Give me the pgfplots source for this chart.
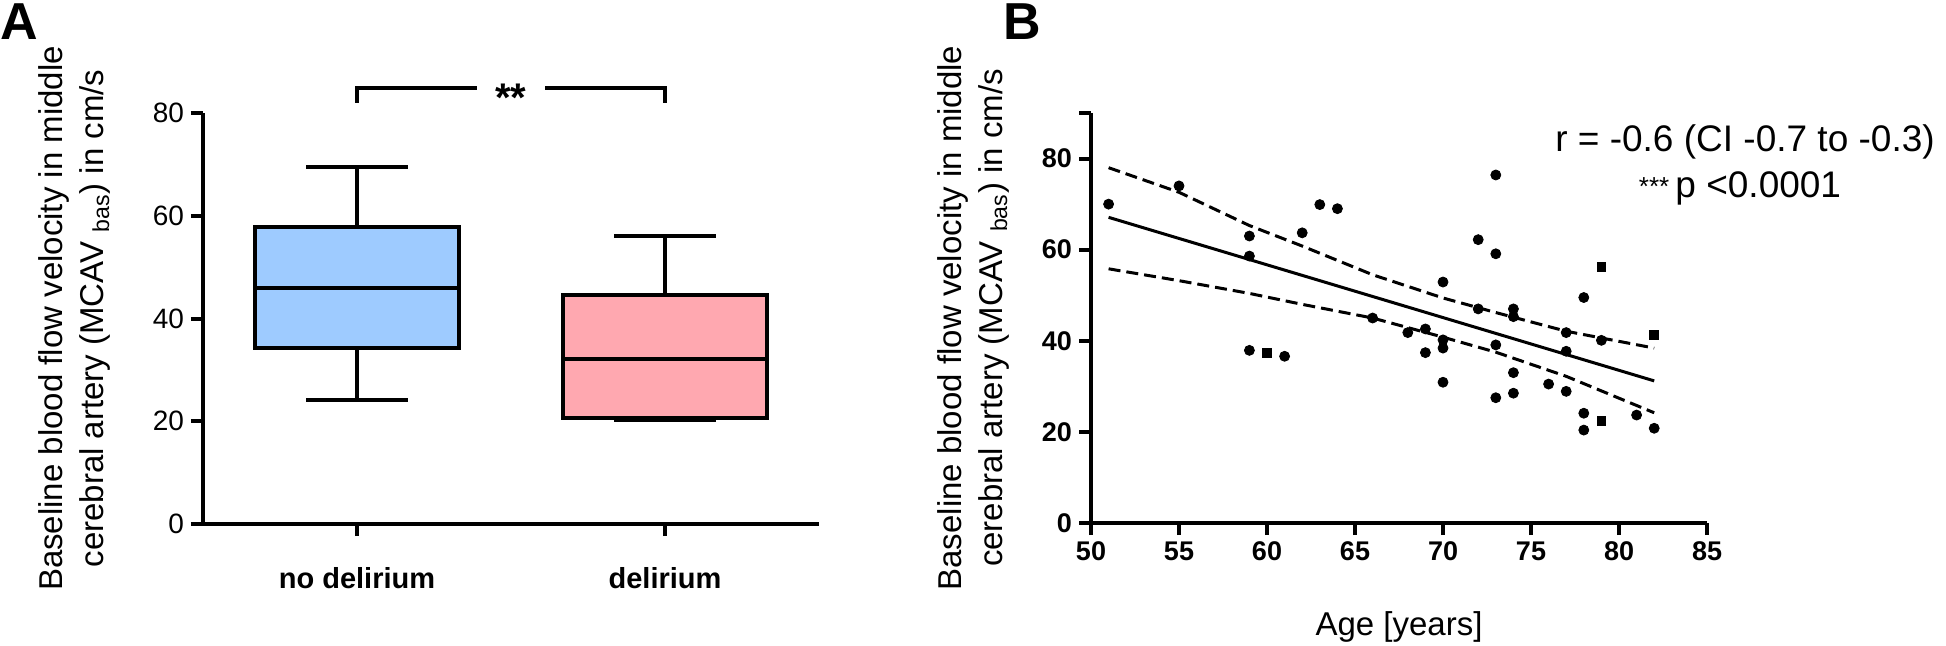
\documentclass[border=0pt]{standalone}
\usepackage{fontspec}
\setmainfont{Liberation Sans}
\usepackage{pgfplots}
\pgfplotsset{compat=1.18}
\definecolor{boxblue}{HTML}{9ECBFF}
\definecolor{boxpink}{HTML}{FFA8B0}
\begin{document}
\begin{tikzpicture}
\begin{axis}[
  name=A, at={(0,0)}, anchor=south west,
  scale only axis, width=308pt, height=205.5pt,
  xmin=-0.5, xmax=1.5, ymin=0, ymax=80,
  axis lines*=left,
  axis line style={line width=2pt},
  tick style={black, line width=2pt},
  major tick length=6pt, tick align=outside,
  xtick={0,1}, xticklabels={no delirium,delirium},
  xticklabel style={font=\bfseries\fontsize{14.5pt}{17pt}\selectfont, yshift=-12pt},
  ytick={0,20,40,60,80},
  yticklabel style={font=\fontsize{14pt}{16pt}\selectfont},
  /pgf/number format/assume math mode=true,
  ylabel={Baseline blood flow velocity in middle\\cerebral artery (MCAV \textsubscript{bas}) in cm/s},
  ylabel style={at={(axis description cs:-0.208,0.5)}, anchor=center, align=center, font=\fontsize{16.5pt}{20.5pt}\selectfont},
  clip=false,
]
% no delirium: lower whisker 24.1, Q1 34.2, median 46.0, Q3 57.8, upper whisker 69.5
\addplot[draw=black, line width=2pt, fill=boxblue] coordinates {(-0.33,34.2) (0.33,34.2) (0.33,57.8) (-0.33,57.8)} -- cycle;
\addplot[black, line width=2pt] coordinates {(-0.33,46.0) (0.33,46.0)};
\addplot[black, line width=2pt] coordinates {(0,57.8) (0,69.5)};
\addplot[black, line width=2pt] coordinates {(-0.165,69.5) (0.165,69.5)};
\addplot[black, line width=2pt] coordinates {(0,34.2) (0,24.1)};
\addplot[black, line width=2pt] coordinates {(-0.165,24.1) (0.165,24.1)};
% delirium: lower whisker 20.2, Q1 20.6, median 32.2, Q3 44.6, upper whisker 56.0
\addplot[black, line width=2pt] coordinates {(0.835,20.2) (1.165,20.2)};
\addplot[draw=black, line width=2pt, fill=boxpink] coordinates {(0.67,20.6) (1.33,20.6) (1.33,44.6) (0.67,44.6)} -- cycle;
\addplot[black, line width=2pt] coordinates {(0.67,32.2) (1.33,32.2)};
\addplot[black, line width=2pt] coordinates {(1,44.6) (1,56.0)};
\addplot[black, line width=2pt] coordinates {(0.835,56.0) (1.165,56.0)};
% significance bracket
\addplot[black, line width=2pt] coordinates {(0,82) (0,84.8) (0.388,84.8)};
\addplot[black, line width=2pt] coordinates {(0.612,84.8) (1,84.8) (1,82)};
\node[font=\bfseries\fontsize{20pt}{24pt}\selectfont, anchor=base, inner sep=0pt, yshift=-11.5pt] at (axis cs:0.5,84.8) {**};
\node[anchor=north west, inner sep=0pt, font=\bfseries\fontsize{26pt}{30pt}\selectfont] at (axis description cs:-0.3295,1.2676) {A};
\end{axis}

\begin{axis}[
  name=B, at={(444pt,0.5pt)}, anchor=south west,
  scale only axis, width=308pt, height=205pt,
  xmin=50, xmax=85, ymin=0, ymax=90,
  axis lines*=left,
  axis line style={line width=2pt},
  tick style={black, line width=2pt},
  major tick length=6pt, tick align=outside,
  xtick={50,55,60,65,70,75,80,85},
  ytick={0,20,40,60,80},
  extra y ticks={90}, extra y tick labels={},
  tick label style={font=\bfseries\fontsize{13.5pt}{16pt}\selectfont},
  /pgf/number format/assume math mode=true,
  ylabel={Baseline blood flow velocity in middle\\cerebral artery (MCAV \textsubscript{bas}) in cm/s},
  ylabel style={at={(axis description cs:-0.1916,0.5)}, anchor=center, align=center, font=\fontsize{16.5pt}{20.5pt}\selectfont},
  xlabel={Age [years]},
  xlabel style={at={(axis description cs:0.5,0)}, anchor=base, yshift=-56pt, font=\fontsize{16.5pt}{20pt}\selectfont},
  clip=false,
]
\addplot[black, line width=1.5pt, dash pattern=on 6pt off 3pt] coordinates {
  (51,78.0) (55,72.6) (59,65.3) (62,60.8) (66,54.5) (70,49.4) (73,46.2) (77,42.1) (82,38.4)};
\addplot[black, line width=1.5pt, dash pattern=on 6pt off 3pt] coordinates {
  (51,55.8) (55,53.2) (59,50.4) (62,48.0) (66,45.0) (70,40.8) (73,37.5) (77,32.2) (82,24.2)};
\addplot[black, line width=1.5pt] coordinates {(51,67.1) (82,31.2)};
\addplot[only marks, mark=*, mark size=2.5pt, black] coordinates {
  (51,70.0) (55,74.0) (59,63.0) (59,58.6) (59,37.9) (61,36.6) (62,63.7) (63,69.9) (64,69.0)
  (66,45.0) (68,41.8) (69,42.6) (69,37.4) (70,52.9) (70,40.2) (70,38.4) (70,30.9)
  (72,62.2) (72,47.0) (73,76.4) (73,59.1) (73,39.1) (73,27.5)
  (74,47.0) (74,45.3) (74,33.0) (74,28.5) (76,30.5) (77,41.8) (77,37.7) (77,28.9)
  (78,49.5) (78,24.1) (78,20.4) (79,40.1) (81,23.7) (82,20.8)};
\addplot[only marks, mark=square*, mark size=2.2pt, black] coordinates {
  (60,37.3) (79,56.3) (79,22.4) (82,41.3)};
\node[anchor=base, inner sep=0pt, font=\fontsize{18.5pt}{22pt}\selectfont] at (axis description cs:1.0617,0.905) {r = -0.6 (CI -0.7 to -0.3)};
\node[anchor=base, inner sep=0pt, font=\fontsize{18.5pt}{22pt}\selectfont] at (axis description cs:1.0536,0.793) {{\fontsize{13pt}{15pt}\selectfont\raisebox{1pt}{***}}\,p <0.0001};
\node[anchor=north west, inner sep=0pt, font=\bfseries\fontsize{26pt}{30pt}\selectfont] at (axis description cs:-0.1429,1.268) {B};
\end{axis}
\pgfresetboundingbox
\path[use as bounding box] (-101.5pt,-60.5pt) rectangle (871.5pt,262pt);
\end{tikzpicture}
\end{document}
